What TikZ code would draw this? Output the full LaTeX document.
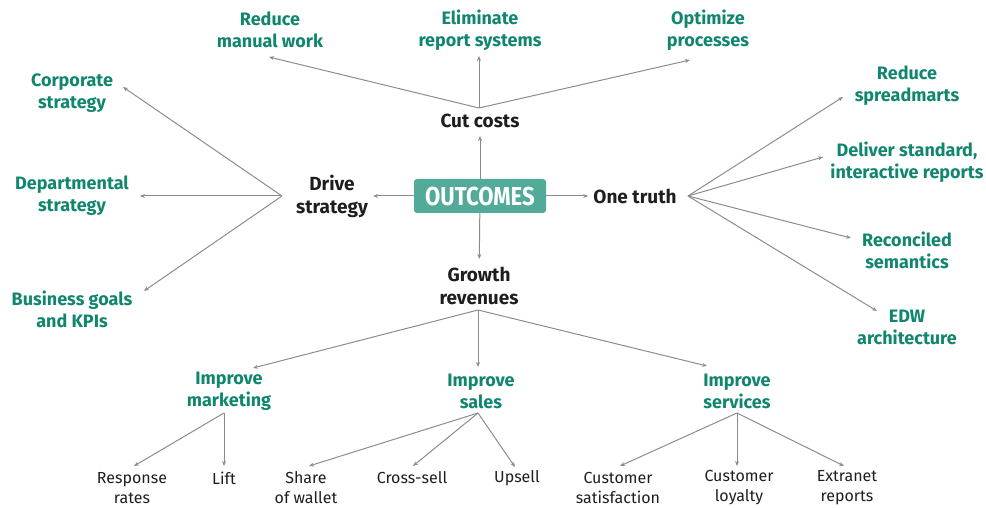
\documentclass[tikz,border=0pt]{standalone}
\usepackage{fontspec}
\setmainfont{Fira Sans}
\newfontfamily\condfont[FakeStretch=0.85]{Fira Sans}
\usetikzlibrary{arrows.meta}
\definecolor{tgreen}{HTML}{11866F}
\definecolor{tbox}{HTML}{52AA98}
\definecolor{tgray}{HTML}{8C8C8C}
\definecolor{tink}{HTML}{1E1E1E}
\begin{document}
\begin{tikzpicture}[x=1pt,y=-1pt,
  boxnode/.style={fill=tbox, rounded corners=3pt, minimum width=132pt, minimum height=34pt,
    inner sep=0pt, text=white, font=\condfont\bfseries\fontsize{26}{26}\selectfont},
  mainlbl/.style={text=tink, align=center, inner xsep=5pt, inner ysep=8pt,
    font=\bfseries\fontsize{19}{23}\selectfont},
  greenlbl/.style={text=tgreen, align=center, inner sep=0pt,
    font=\bfseries\fontsize{18}{22}\selectfont},
  leaflbl/.style={text=tink, align=center, inner sep=0pt,
    font=\fontsize{16}{20}\selectfont},
  arr/.style={draw=tgray, line width=1pt, -{Stealth[length=5pt,width=4pt]}}
]
\useasboundingbox (0,0) rectangle (986,508);

% centre
\node[boxnode] (out) at (480,196) {OUTCOMES};
\node[mainlbl] (cut) at (480,121) {Cut costs};
\node[mainlbl] (drive) at (332,196) {Drive\\strategy};
\node[mainlbl] (one) at (635,196) {One truth};
\node[mainlbl] (grow) at (479,286) {Growth\\revenues};

\draw[arr] (out) -- (cut);
\draw[arr] (out) -- (drive);
\draw[arr] (out) -- (one);
\draw[arr] (out) -- (grow);

% cut costs
\node[greenlbl] (rmw) at (270,30) {Reduce\\manual work};
\node[greenlbl] (elim) at (480,30) {Eliminate\\report systems};
\node[greenlbl] (opt) at (708,30) {Optimize\\processes};
\coordinate (cuthub) at (479,108);
\coordinate (rmw-t) at (269,57);
\coordinate (elim-t) at (479,56);
\coordinate (opt-t) at (690,60);
\draw[arr] (cuthub) -- (rmw-t);
\draw[arr] (cuthub) -- (elim-t);
\draw[arr] (cuthub) -- (opt-t);

% drive strategy
\node[greenlbl] (corp) at (72,93) {Corporate\\strategy};
\node[greenlbl] (dept) at (72,196) {Departmental\\strategy};
\node[greenlbl] (biz) at (72,309) {Business goals\\and KPIs};
\coordinate (drivehub) at (282,196);
\coordinate (corp-t) at (123,87);
\coordinate (dept-t) at (140,196);
\coordinate (biz-t) at (144,291);
\draw[arr] (drivehub) -- (corp-t);
\draw[arr] (drivehub) -- (dept-t);
\draw[arr] (drivehub) -- (biz-t);

% one truth
\node[greenlbl] (spread) at (907,86) {Reduce\\spreadmarts};
\node[greenlbl] (deliver) at (907,162) {Deliver standard,\\interactive reports};
\node[greenlbl] (recon) at (907,250) {Reconciled\\semantics};
\node[greenlbl] (edw) at (907,327) {EDW\\architecture};
\coordinate (onehub) at (688,196);
\coordinate (spread-t) at (843,97);
\coordinate (deliver-t) at (823,157);
\coordinate (recon-t) at (851,238);
\coordinate (edw-t) at (877,311);
\draw[arr] (onehub) -- (spread-t);
\draw[arr] (onehub) -- (deliver-t);
\draw[arr] (onehub) -- (recon-t);
\draw[arr] (onehub) -- (edw-t);

% growth revenues
\node[greenlbl] (mkt) at (229,391) {Improve\\marketing};
\node[greenlbl] (sales) at (481,391) {Improve\\sales};
\node[greenlbl] (serv) at (737,391) {Improve\\services};
\coordinate (growhub) at (478,310);
\coordinate (mkt-t) at (253,368);
\coordinate (sales-t) at (478,367);
\coordinate (serv-t) at (707,366);
\draw[arr] (growhub) -- (mkt-t);
\draw[arr] (growhub) -- (sales-t);
\draw[arr] (growhub) -- (serv-t);

% leaves: marketing
\node[leaflbl] (resp) at (132,488) {Response\\rates};
\node[leaflbl] (lift) at (224,478) {Lift};
\coordinate (mkthub) at (224,413);
\coordinate (resp-t) at (134,466);
\coordinate (lift-t) at (224,466);
\draw[arr] (mkthub) -- (resp-t);
\draw[arr] (mkthub) -- (lift-t);

% leaves: sales
\node[leaflbl] (share) at (306,488) {Share\\of wallet};
\node[leaflbl] (cross) at (412,478) {Cross-sell};
\node[leaflbl] (up) at (517,478) {Upsell};
\coordinate (saleshub) at (478,413);
\coordinate (share-t) at (309,466);
\coordinate (cross-t) at (413,466);
\coordinate (up-t) at (515,467);
\draw[arr] (saleshub) -- (share-t);
\draw[arr] (saleshub) -- (cross-t);
\draw[arr] (saleshub) -- (up-t);

% leaves: services
\node[leaflbl] (sat) at (618,488) {Customer\\satisfaction};
\node[leaflbl] (loy) at (739,488) {Customer\\loyalty};
\node[leaflbl] (ext) at (847,488) {Extranet\\reports};
\coordinate (servhub) at (737,413);
\coordinate (sat-t) at (620,466);
\coordinate (loy-t) at (737,466);
\coordinate (ext-t) at (844,466);
\draw[arr] (servhub) -- (sat-t);
\draw[arr] (servhub) -- (loy-t);
\draw[arr] (servhub) -- (ext-t);
\end{tikzpicture}
\end{document}
